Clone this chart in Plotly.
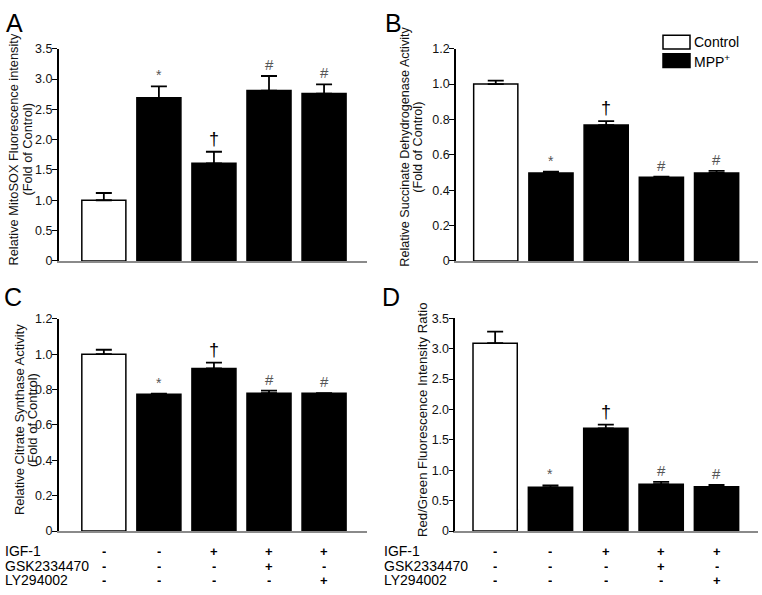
import plotly.graph_objects as go

W, H = 762, 595

# ---------------- data ----------------
groups = ["Control", "MPP+", "MPP+ IGF-1", "MPP+ IGF-1 GSK", "MPP+ IGF-1 LY"]
fills = ["white", "black", "black", "black", "black"]

mitosox_mean = [1.00, 2.69, 1.61, 2.81, 2.76]
mitosox_err = [0.12, 0.19, 0.19, 0.24, 0.15]

sdh_mean = [1.00, 0.497, 0.768, 0.473, 0.497]
sdh_err = [0.02, 0.008, 0.022, 0.004, 0.012]

cs_mean = [1.00, 0.773, 0.919, 0.779, 0.779]
cs_err = [0.025, 0.004, 0.033, 0.015, 0.0]

rg_mean = [3.09, 0.72, 1.69, 0.77, 0.73]
rg_err = [0.19, 0.03, 0.06, 0.04, 0.03]

marks_A = ["", "*", "†", "#", "#"]
marks_B = ["", "*", "†", "#", "#"]
marks_C = ["", "*", "†", "#", "#"]
marks_D = ["", "*", "†", "#", "#"]

row_labels = ["IGF-1", "GSK2334470", "LY294002"]
igf = ["-", "-", "+", "+", "+"]
gsk = ["-", "-", "-", "+", "-"]
ly = ["-", "-", "-", "-", "+"]

ticks_A = [0, 0.5, 1.0, 1.5, 2.0, 2.5, 3.0, 3.5]
ticktext_A = ["0", "0.5", "1.0", "1.5", "2.0", "2.5", "3.0", "3.5"]
ticks_B = [0, 0.2, 0.4, 0.6, 0.8, 1.0, 1.2]
ticktext_B = ["0", "0.2", "0.4", "0.6", "0.8", "1.0", "1.2"]

FONT = "Liberation Sans, Arial, sans-serif"


def px(x):
    return x / W


def py(y):
    return 1 - y / H


panels = [
    dict(key="", mean=mitosox_mean, err=mitosox_err, marks=marks_A,
         xdom=[px(58.7), px(367)], ydom=[py(260), py(42.7)],
         xr=[-0.82, 4.78], yr=[0, 3.5], tv=ticks_A, tt=ticktext_A),
    dict(key="2", mean=sdh_mean, err=sdh_err, marks=marks_B,
         xdom=[px(456), px(758)], ydom=[py(260), py(42.7)],
         xr=[-0.72, 4.75], yr=[0, 1.2], tv=ticks_B, tt=ticktext_B),
    dict(key="3", mean=cs_mean, err=cs_err, marks=marks_C,
         xdom=[px(58.7), px(367)], ydom=[py(536.7), py(319.3)],
         xr=[-0.82, 4.78], yr=[0, 1.2], tv=ticks_B, tt=ticktext_B),
    dict(key="4", mean=rg_mean, err=rg_err, marks=marks_D,
         xdom=[px(455.3), px(758)], ydom=[py(536.7), py(318.7)],
         xr=[-0.72, 4.75], yr=[0, 3.5], tv=ticks_A, tt=ticktext_A),
]

fig = go.Figure()
annotations = []
layout = {}

xpos = list(range(len(groups)))

for p in panels:
    k = p["key"]
    fig.add_trace(go.Bar(
        x=xpos, y=p["mean"], width=0.8,
        marker=dict(color=fills, line=dict(color="black", width=1.5)),
        error_y=dict(type="data", array=p["err"], arrayminus=[0] * 5,
                     symmetric=False, color="black", thickness=1.8, width=8),
        xaxis="x" + k, yaxis="y" + k, showlegend=False,
        hovertext=groups,
    ))
    layout["xaxis" + k] = dict(
        domain=p["xdom"], range=p["xr"], anchor="y" + k,
        showticklabels=False, ticks="", showgrid=False, zeroline=False,
        showline=True, linecolor="#8a8a8a", linewidth=1.5, fixedrange=True,
    )
    layout["yaxis" + k] = dict(
        domain=p["ydom"], range=p["yr"], anchor="x" + k,
        tickvals=p["tv"], ticktext=p["tt"], ticks="outside", ticklen=5,
        ticklabelstandoff=-3,
        tickwidth=1.3, tickcolor="black", showgrid=False, zeroline=False,
        showline=True, linecolor="black", linewidth=1.5,
        tickfont=dict(family=FONT, size=12.5, color="#111"), fixedrange=True,
    )
    for i, m in enumerate(p["marks"]):
        if not m:
            continue
        col = "black" if m == "†" else "#555"
        size = 18 if m == "†" else (15 if m == "#" else 14)
        annotations.append(dict(
            x=i, y=p["mean"][i] + p["err"][i], xref="x" + k, yref="y" + k,
            text=m, showarrow=False, yanchor="bottom", yshift=1,
            font=dict(family=FONT, size=size, color=col),
        ))

# panel letters
for letter, x, y in [("A", 4, 0), ("B", 383, 0), ("C", 2, 281), ("D", 380, 281)]:
    annotations.append(dict(x=px(x), y=py(y), xref="paper", yref="paper",
                            text=letter, showarrow=False, xanchor="left",
                            yanchor="top", font=dict(family=FONT, size=25, color="black")))

# y-axis titles (rotated)
ytitles = [
    ("Relative MitoSOX Fluorescence intensity", 14, 146, 12.8),
    ("(Fold of Control)", 28, 146, 12.8),
    ("Relative Succinate Dehydrogenase Activity", 405, 143, 12.6),
    ("(Fold of Control)", 418, 143, 12.6),
    ("Relative Citrate Synthase Activity", 19, 423, 13),
    ("(Fold of Control)", 32, 423, 13),
    ("Red/Green Fluorescence Intensity Ratio", 422, 423, 13.2),
]
for t, x, y, s in ytitles:
    annotations.append(dict(x=px(x), y=py(y), xref="paper", yref="paper",
                            text=t, showarrow=False, textangle=-90,
                            xanchor="center", yanchor="middle",
                            font=dict(family=FONT, size=s, color="#111")))

# treatment table under C and D
row_y = [556.7, 572.3, 587]
rows = [igf, gsk, ly]
for k, lx in [("3", 3), ("4", 382)]:
    for r, (lab, yy, vals) in enumerate(zip(row_labels, row_y, rows)):
        annotations.append(dict(x=px(lx), y=py(yy), xref="paper", yref="paper",
                                text=lab, showarrow=False, xanchor="left",
                                yanchor="middle", height=14,
                                font=dict(family=FONT, size=14, color="black")))
        for i, v in enumerate(vals):
            annotations.append(dict(x=i, y=py(yy), xref="x" + k, yref="paper",
                                    text="<b>%s</b>" % v, showarrow=False,
                                    xanchor="center", yanchor="middle", height=14,
                                    font=dict(family=FONT, size=13, color="black")))

# legend in panel B
shapes = [
    dict(type="rect", xref="paper", yref="paper", x0=px(663), x1=px(690),
         y0=py(43), y1=py(29), fillcolor="white", line=dict(color="black", width=1.5)),
    dict(type="rect", xref="paper", yref="paper", x0=px(663), x1=px(690),
         y0=py(62), y1=py(48), fillcolor="black", line=dict(color="black", width=1.5)),
]
annotations.append(dict(x=px(692), y=py(36), xref="paper", yref="paper",
                        text="Control", showarrow=False, xanchor="left", yanchor="middle",
                        font=dict(family=FONT, size=14, color="black")))
annotations.append(dict(x=px(692), y=py(55), xref="paper", yref="paper",
                        text="MPP<sup>+</sup>", showarrow=False, xanchor="left", yanchor="middle",
                        font=dict(family=FONT, size=14, color="black")))

fig.update_layout(
    width=W, height=H, margin=dict(l=0, r=0, t=0, b=0),
    paper_bgcolor="white", plot_bgcolor="white",
    annotations=annotations, shapes=shapes, bargap=0.2,
    **layout,
)

fig.write_html("out.html", config={"displayModeBar": False},
               post_script="document.body.style.margin='0';document.body.style.overflow='hidden';")
